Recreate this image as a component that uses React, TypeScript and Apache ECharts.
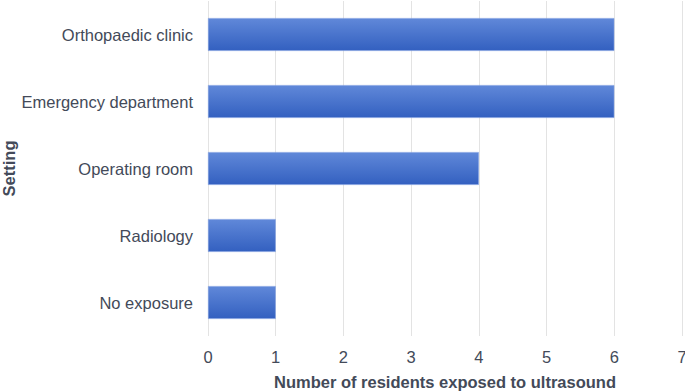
import React, { useEffect, useRef } from "react";
import * as echarts from "echarts";

const categories = ["Orthopaedic clinic", "Emergency department", "Operating room", "Radiology", "No exposure"];
const values = [6, 6, 4, 1, 1];
const xTicks = [0, 1, 2, 3, 4, 5, 6, 7];

export default function App() {
  const ref = useRef<HTMLDivElement>(null);
  useEffect(() => {
    const chart = echarts.init(ref.current!, null, { renderer: "svg" });
    const font = "'Liberation Sans', Arial, Helvetica, sans-serif";
    const textColor = "#434a59";
    chart.setOption({
      animation: false,
      textStyle: { fontFamily: font },
      grid: { left: 208, right: 3, top: 1, bottom: 55, containLabel: false, outerBoundsMode: "none" },
      xAxis: {
        type: "value",
        min: xTicks[0],
        max: xTicks[xTicks.length - 1],
        interval: 1,
        name: "Number of residents exposed to ultrasound",
        nameLocation: "middle",
        nameGap: 37,
        nameMoveOverlap: false,
        nameTextStyle: { fontFamily: font, fontSize: 16.5, fontWeight: "bold", color: textColor },
        axisLine: { show: false },
        axisTick: { show: false },
        axisLabel: { fontFamily: font, fontSize: 16.5, color: textColor, margin: 12 },
        splitLine: { show: true, lineStyle: { color: "#e3e3e3", width: 1 } },
      },
      yAxis: {
        type: "category",
        inverse: true,
        data: categories,
        name: "Setting",
        nameLocation: "middle",
        nameGap: 191,
        nameMoveOverlap: false,
        nameRotate: 90,
        nameTextStyle: { fontFamily: font, fontSize: 16.5, fontWeight: "bold", color: textColor },
        axisLine: { show: false },
        axisTick: { show: false },
        axisLabel: { fontFamily: font, fontSize: 16.5, color: textColor, margin: 15 },
        splitLine: { show: false },
      },
      series: [
        {
          type: "bar",
          data: values,
          barWidth: "49%",
          itemStyle: {
            color: new echarts.graphic.LinearGradient(0, 0, 0, 1, [
              { offset: 0, color: "#6088d9" },
              { offset: 1, color: "#3360c0" },
            ]),
            borderColor: "#7d9de0",
            borderWidth: 0.6,
          },
        },
      ],
    });
    return () => chart.dispose();
  }, []);
  return <div ref={ref} style={{ width: 685, height: 391, position: "absolute", left: 0, top: 0 }} />;
}
